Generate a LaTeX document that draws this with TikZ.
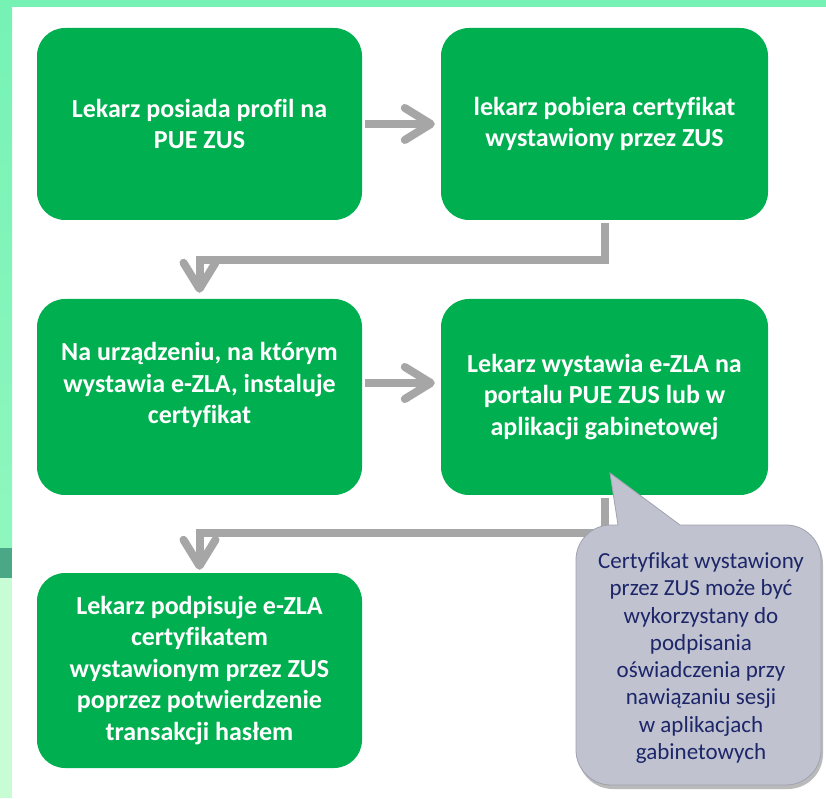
\documentclass[tikz,border=0pt]{standalone}
\usepackage{fontspec}
\setmainfont{Carlito}[Ligatures=NoCommon]
\usetikzlibrary{arrows.meta,shadows,calc}
\definecolor{zgreen}{RGB}{0,176,80}
\definecolor{zgray}{RGB}{166,166,166}
\definecolor{callfill}{RGB}{192,195,207}
\definecolor{callline}{RGB}{160,163,175}
\definecolor{navy}{RGB}{28,38,105}
\definecolor{barA}{RGB}{118,242,180}
\definecolor{barB}{RGB}{143,247,190}
\definecolor{barC}{RGB}{74,168,134}
\definecolor{barD}{RGB}{200,252,212}
\begin{document}
\begin{tikzpicture}[x=1pt,y=1pt,
  stepbox/.style={fill=zgreen, rounded corners=28pt, minimum width=325pt, minimum height=194pt, inner sep=0pt,
     text=white, font=\bfseries\fontsize{26}{31.5}\selectfont, align=center},
  boxtext/.style={text=white, font=\bfseries\fontsize{26}{31.5}\selectfont, align=center, inner sep=0pt},
  conn/.style={draw=zgray, line width=8pt, -{Straight Barb[round,length=26pt,width=32pt]}},
  calltext/.style={text=navy, font=\fontsize{23}{27.3}\selectfont, align=center, inner sep=0pt}]
\useasboundingbox (0,0) rectangle (826,798);
\fill[white] (0,0) rectangle (826,798);
\fill[barA] (0,791) rectangle (826,798);
\shade[top color=barA,bottom color=barB] (0,250) rectangle (12,798);
\fill[barC] (0,220) rectangle (12,250);
\fill[barD] (0,0) rectangle (12,220);

\node[stepbox, minimum height=192pt] (b1) at (199.5,674) {Lekarz posiada profil na\\PUE ZUS};
\node[stepbox, minimum width=327pt, minimum height=192pt] (b2) at (604.5,674) {lekarz pobiera certyfikat\\wystawiony przez ZUS};
\node[stepbox, minimum height=196pt] (b3) at (199.5,401) {};
\node[boxtext] (t3) at (199.5,413) {Na urządzeniu, na którym\\wystawia e-ZLA, instaluje\\certyfikat};
\node[stepbox, minimum width=327pt, minimum height=196pt] (b4) at (604.5,401) {Lekarz wystawia e-ZLA na\\portalu PUE ZUS lub w\\aplikacji gabinetowej};
\node[stepbox, minimum height=195pt] (b5) at (199.5,127.5) {Lekarz podpisuje e-ZLA\\certyfikatem\\wystawionym przez ZUS\\poprzez potwierdzenie\\transakcji hasłem};

\draw[conn] ([xshift=3pt]b1.east) -- ([xshift=-6pt]b2.west);
\draw[conn] ([xshift=3pt,yshift=14pt]b3.east) -- ([xshift=-6pt,yshift=14pt]b4.west);
\draw[conn] ([yshift=-3pt]b2.south) -- ++(0,-37) -| ([yshift=6pt]b3.north);
\draw[conn] ([yshift=-3pt]b4.south) -- ++(0,-35) -| ([yshift=3pt]b5.north);

\path[fill=callfill, draw=callline, line width=0.8pt,
      drop shadow={shadow xshift=2pt, shadow yshift=-4pt, opacity=0.45, fill=black!60}]
  (610,325) -- (680,273) -- (786,273) arc[start angle=90,end angle=0,radius=35pt]
  -- (821,48) arc[start angle=0,end angle=-90,radius=35pt]
  -- (611,13) arc[start angle=270,end angle=180,radius=35pt]
  -- (576,238) arc[start angle=180,end angle=90,radius=35pt]
  -- (618,273) -- cycle;
\node[calltext] (ct) at (701,140) {Certyfikat wystawiony\\przez ZUS może być\\wykorzystany do\\podpisania\\oświadczenia przy\\nawiązaniu sesji\\w aplikacjach\\gabinetowych};
\end{tikzpicture}
\end{document}
